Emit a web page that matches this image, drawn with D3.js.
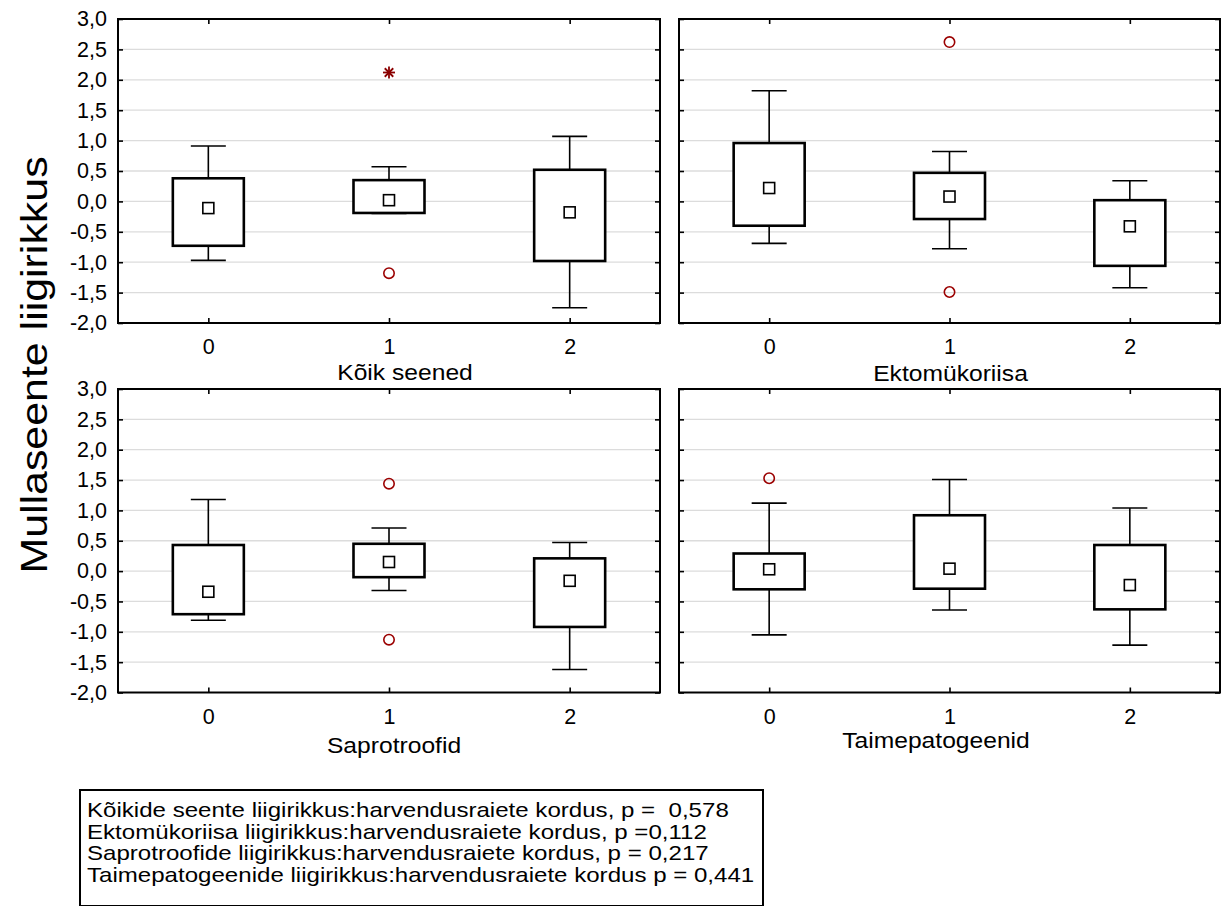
<!DOCTYPE html>
<html>
<head>
<meta charset="utf-8">
<script src="https://cdn.jsdelivr.net/npm/d3@7"></script>
<style>
  html, body { margin: 0; padding: 0; background: #fff; }
  svg { display: block; font-family: "Liberation Sans", Arial, sans-serif; }
  text.leg { white-space: pre; }
</style>
</head>
<body>
<svg id="chart" width="1227" height="906"></svg>
<script>
// Repeated thinning cuts (0, 1, 2) vs. soil fungal species richness, four fungal groups
const groups = ["0", "1", "2"];
const panelTitles = ["Kõik seened", "Ektomükoriisa", "Saprotroofid", "Taimepatogeenid"];
const yTickValues = [-2, -1.5, -1, -0.5, 0, 0.5, 1, 1.5, 2, 2.5, 3];
const yAxisTitle = "Mullaseente liigirikkus";

// Box statistics per panel, one value per group 0,1,2
const medians   = [[-0.11, 0.02, -0.18], [0.22, 0.08, -0.41], [-0.34, 0.15, -0.16], [0.03, 0.04, -0.23]];
const q1        = [[-0.73, -0.19, -0.98], [-0.40, -0.29, -1.06], [-0.71, -0.10, -0.92], [-0.30, -0.29, -0.63]];
const q3        = [[0.38, 0.35, 0.52], [0.96, 0.47, 0.02], [0.43, 0.45, 0.21], [0.29, 0.92, 0.43]];
const whiskLow  = [[-0.97, -0.20, -1.75], [-0.69, -0.78, -1.42], [-0.81, -0.32, -1.62], [-1.05, -0.64, -1.22]];
const whiskHigh = [[0.91, 0.57, 1.07], [1.82, 0.82, 0.34], [1.18, 0.71, 0.47], [1.12, 1.51, 1.04]];
// Outliers (circles) and extremes (asterisks): [group, value]
const outliers  = [[["1", -1.18]], [["1", 2.62], ["1", -1.49]], [["1", 1.44], ["1", -1.13]], [["0", 1.53]]];
const extremes  = [[["1", 2.12]], [], [], []];

const legendLines = [
  "Kõikide seente liigirikkus:harvendusraiete kordus, p =  0,578",
  "Ektomükoriisa liigirikkus:harvendusraiete kordus, p =0,112",
  "Saprotroofide liigirikkus:harvendusraiete kordus, p = 0,217",
  "Taimepatogeenide liigirikkus:harvendusraiete kordus p = 0,441"
];

// ---- layout ----
const panelFrames = [
  { x0: 118, x1: 660, y0: 19, y1: 323 },
  { x0: 679, x1: 1220, y0: 19, y1: 323 },
  { x0: 118, x1: 660, y0: 389, y1: 692.5 },
  { x0: 679, x1: 1220, y0: 389, y1: 692.5 }
];
const titleShift = [{ dx: 16, dy: 57 }, { dx: 1, dy: 58 }, { dx: 5, dy: 60 }, { dx: -13.5, dy: 55 }];
const outlierColor = "#9b0000";
const boxWidth = 71, capWidth = 35, medSize = 11;

const locale = d3.formatLocale({ decimal: ",", thousands: " ", grouping: [3], currency: ["", ""], minus: "-" });
const fmt = locale.format(".1f");

const svg = d3.select("#chart");

panelFrames.forEach((f, p) => {
  const x = d3.scalePoint().domain(groups).range([f.x0, f.x1]).padding(0.5);
  const y = d3.scaleLinear().domain([-2, 3]).range([f.y1, f.y0]);
  const g = svg.append("g");

  // horizontal grid
  g.selectAll("line.grid").data(yTickValues.filter(v => v > -2 && v < 3)).join("line")
    .attr("x1", f.x0).attr("x2", f.x1)
    .attr("y1", d => y(d)).attr("y2", d => y(d))
    .attr("stroke", "#dcdcdc").attr("stroke-width", 1.3);

  // inward tick marks on all four sides
  const left = d3.axisLeft(y).tickValues(yTickValues).tickSizeInner(-5).tickSizeOuter(0)
    .tickPadding(11).tickFormat(p % 2 === 0 ? fmt : () => "");
  const right = d3.axisRight(y).tickValues(yTickValues).tickSizeInner(-5).tickSizeOuter(0).tickFormat(() => "");
  const top = d3.axisTop(x).tickSizeInner(-5).tickSizeOuter(0).tickFormat(() => "");
  const bottom = d3.axisBottom(x).tickSizeInner(-5).tickSizeOuter(0).tickPadding(16);

  const styleAxis = sel => {
    sel.select(".domain").remove();
    sel.selectAll(".tick line").attr("stroke", "#000").attr("stroke-width", 1.6);
    sel.selectAll(".tick text").attr("fill", "#000").attr("font-size", 21.5)
      .attr("font-family", "\"Liberation Sans\", Arial, sans-serif");
  };
  g.append("g").attr("transform", `translate(${f.x0},0)`).call(left).call(styleAxis);
  g.append("g").attr("transform", `translate(${f.x1},0)`).call(right).call(styleAxis);
  g.append("g").attr("transform", `translate(0,${f.y0})`).call(top).call(styleAxis);
  g.append("g").attr("transform", `translate(0,${f.y1})`).call(bottom).call(styleAxis);

  // boxes
  const rows = groups.map((k, i) => ({
    k, med: medians[p][i], lo: q1[p][i], hi: q3[p][i], wl: whiskLow[p][i], wh: whiskHigh[p][i]
  }));
  const bx = g.selectAll("g.box").data(rows).join("g").attr("class", "box");
  bx.append("line").attr("x1", d => x(d.k)).attr("x2", d => x(d.k))
    .attr("y1", d => y(d.wl)).attr("y2", d => y(d.wh))
    .attr("stroke", "#000").attr("stroke-width", 1.6);
  bx.append("line").attr("x1", d => x(d.k) - capWidth / 2).attr("x2", d => x(d.k) + capWidth / 2)
    .attr("y1", d => y(d.wh)).attr("y2", d => y(d.wh))
    .attr("stroke", "#000").attr("stroke-width", 1.6);
  bx.append("line").attr("x1", d => x(d.k) - capWidth / 2).attr("x2", d => x(d.k) + capWidth / 2)
    .attr("y1", d => y(d.wl)).attr("y2", d => y(d.wl))
    .attr("stroke", "#000").attr("stroke-width", 1.6);
  bx.append("rect").attr("x", d => x(d.k) - boxWidth / 2).attr("width", boxWidth)
    .attr("y", d => y(d.hi)).attr("height", d => y(d.lo) - y(d.hi))
    .attr("fill", "#fff").attr("stroke", "#000").attr("stroke-width", 2.6);
  bx.append("rect").attr("x", d => x(d.k) - medSize / 2).attr("width", medSize)
    .attr("y", d => y(d.med) - medSize / 2).attr("height", medSize)
    .attr("fill", "#fff").attr("stroke", "#000").attr("stroke-width", 1.6);

  // outliers
  g.selectAll("circle.out").data(outliers[p]).join("circle")
    .attr("cx", d => x(d[0])).attr("cy", d => y(d[1])).attr("r", 5.2)
    .attr("fill", "none").attr("stroke", outlierColor).attr("stroke-width", 1.6);

  // extremes as asterisks
  const ex = g.selectAll("g.ext").data(extremes[p]).join("g")
    .attr("transform", d => `translate(${x(d[0])},${y(d[1])})`);
  [0, 45, 90, 135].forEach(a => {
    ex.append("line").attr("x1", 0).attr("y1", -6).attr("x2", 0).attr("y2", 6)
      .attr("transform", `rotate(${a})`)
      .attr("stroke", "#8b0000").attr("stroke-width", 1.8);
  });

  // frame
  g.append("rect").attr("x", f.x0).attr("y", f.y0).attr("width", f.x1 - f.x0).attr("height", f.y1 - f.y0)
    .attr("fill", "none").attr("stroke", "#000").attr("stroke-width", 2);

  // panel title
  const cx = (f.x0 + f.x1) / 2 + titleShift[p].dx;
  g.append("text")
    .attr("transform", `translate(${cx},${f.y1 + titleShift[p].dy}) scale(1.12,1)`)
    .attr("text-anchor", "middle").attr("font-size", 22).attr("fill", "#000")
    .text(panelTitles[p]);
});

// y axis title
svg.append("text")
  .attr("transform", "translate(47,365) rotate(-90) scale(1.16,1)")
  .attr("text-anchor", "middle").attr("font-size", 37).attr("fill", "#000")
  .text(yAxisTitle);

// p-value legend box
svg.append("rect").attr("x", 80).attr("y", 790).attr("width", 683).attr("height", 116)
  .attr("fill", "#fff").attr("stroke", "#000").attr("stroke-width", 2);
svg.selectAll("text.leg").data(legendLines).join("text")
  .attr("class", "leg")
  .attr("xml:space", "preserve")
  .attr("transform", (d, i) => `translate(87,${817 + i * 21.5}) scale(1.205,1)`)
  .attr("font-size", 20).attr("fill", "#000")
  .text(d => d);
</script>
</body>
</html>
